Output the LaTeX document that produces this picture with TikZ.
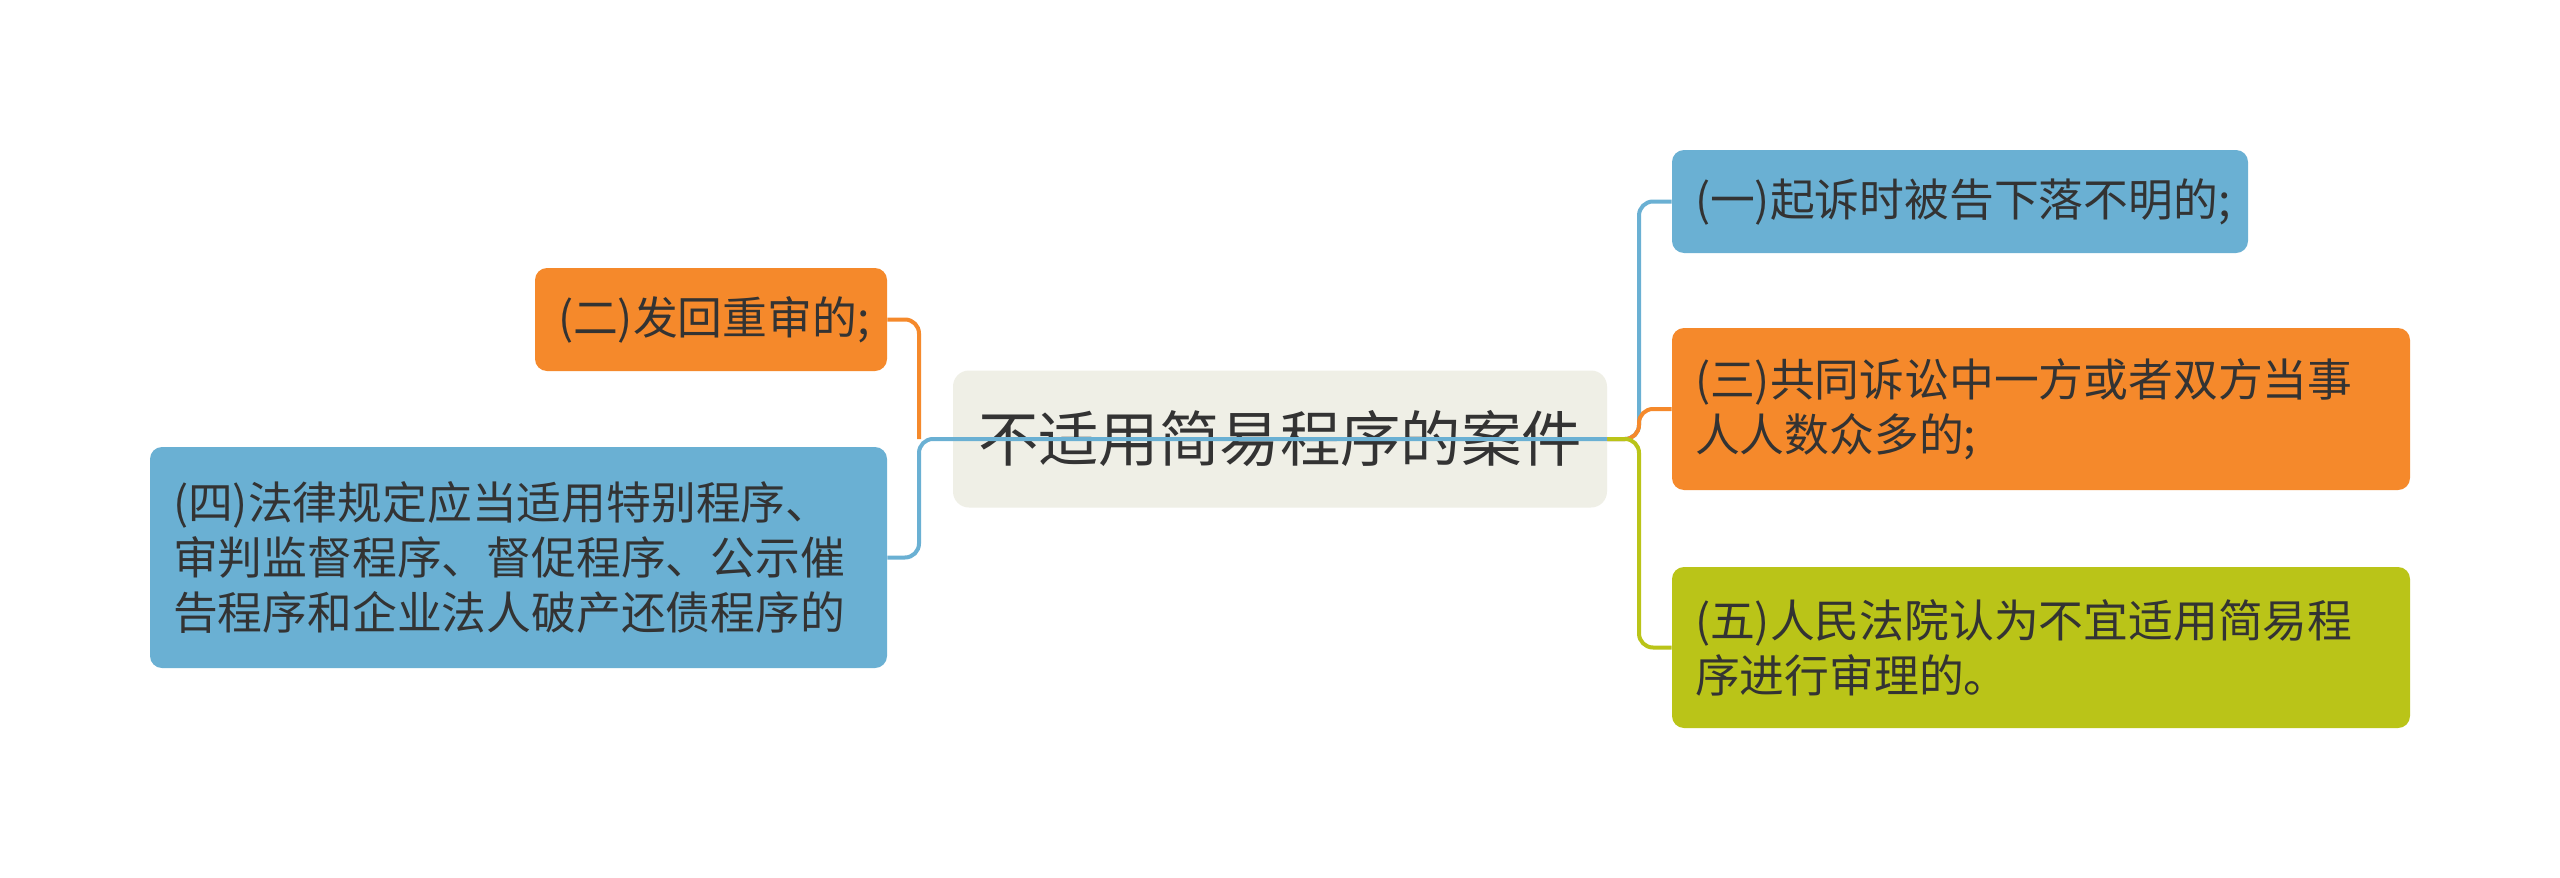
\documentclass[tikz,border=0pt]{standalone}
\usepackage{fontspec}
\setmainfont{Noto Sans CJK SC}
\definecolor{cblue}{RGB}{106,176,211}
\definecolor{corange}{RGB}{245,137,43}
\definecolor{cgreen}{RGB}{186,196,24}
\definecolor{croot}{RGB}{239,239,230}
\definecolor{ctext}{RGB}{51,51,51}
\tikzset{
  box/.style={rounded corners=6pt, inner xsep=11.5pt, inner ysep=0pt, text=ctext,
    font=\fontsize{22.4}{27.5}\selectfont, align=left, anchor=center},
  conn/.style={line width=2pt, rounded corners=7pt},
}
\begin{document}
\begin{tikzpicture}[x=0.5pt,y=-0.5pt]
\useasboundingbox[fill=white] (0,0) rectangle (2560,878);
% root
\node[rounded corners=8pt, fill=croot, minimum width=327pt, minimum height=68.5pt,
  inner sep=0pt, text=ctext, font=\fontsize{30.2}{36}\selectfont] (root) at (1280,439) {不适用简易程序的案件};
% right nodes
\node[box, fill=cblue, minimum width=288pt, minimum height=51.5pt, text width=265pt] (n1) at (1960,201.5)
  {(一)起诉时被告下落不明的;};
\node[box, fill=corange, minimum width=369pt, minimum height=81pt, text width=346pt] (n3) at (2041,409)
  {(三)共同诉讼中一方或者双方当事\\人人数众多的;};
\node[box, fill=cgreen, minimum width=369pt, minimum height=80.5pt, text width=346pt] (n5) at (2041,647.5)
  {(五)人民法院认为不宜适用简易程\\序进行审理的。};
% left nodes
\node[box, fill=corange, minimum width=176pt, minimum height=51.5pt, align=center, text width=153pt] (n2) at (711,319.5)
  {(二)发回重审的;};
\node[box, fill=cblue, minimum width=368.5pt, minimum height=110.5pt, text width=345.5pt] (n4) at (518.5,557.5)
  {(四)法律规定应当适用特别程序、\\审判监督程序、督促程序、公示催\\告程序和企业法人破产还债程序的};
% trunk points
\coordinate (L) at (919,439);
\coordinate (R) at (1639,439);
% connectors
\draw[conn, corange] (L) |- (n2.east);
\draw[conn, cblue] (root.east) -- (L) |- (n4.east);
\draw[conn, cblue] (root.east) -- (R) |- (n1.west);
\draw[conn, corange] (root.east) -- (R) |- (n3.west);
\draw[conn, cgreen] (root.east) -- (R) |- (n5.west);
\end{tikzpicture}
\end{document}
